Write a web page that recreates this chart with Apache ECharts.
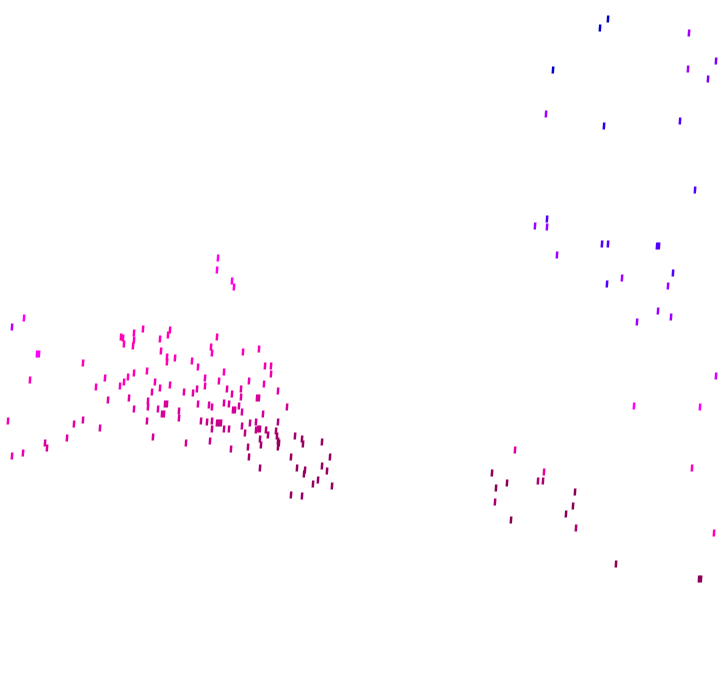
<!DOCTYPE html>
<html><head><meta charset="utf-8">
<script src="https://cdn.jsdelivr.net/npm/echarts@6/dist/echarts.min.js"></script>
<style>html,body{margin:0;padding:0;background:#fff}#c{width:720px;height:692px}</style>
</head><body><div id="c"></div>
<script>
// Point positions and a colour tone (0 = blue ... 6 = dark magenta)
const xs = [
 608,600,553,689,716,688,708,546,604,680,695,
 547,535,547,602,608,657,659,557,622,607,673,668,658,671,637,
 716,634,700,692,714,
 515,492,544,538,543,507,496,575,495,573,566,511,576,616,699,701,
 24,12,37,39,218,217,232,234,
 83,121,123,134,143,124,134,133,160,170,168,161,167,175,167,
 30,105,134,128,124,120,96,147,155,152,160,170,129,108,148,148,165,167,158,134,162,164,179,179,147,83,74,8,100,67,153,45,47,12,23,
 217,211,212,243,259,192,198,224,265,271,271,205,205,219,249,264,184,193,197,227,232,241,241,278,198,209,212,224,229,239,233,235,242,257,259,287,263,
 201,207,212,212,217,219,221,224,229,242,250,256,256,258,245,260,266,278,276,268,295,277,260,186,210,278,279,302,261,231,248,278,303,322,249,291,330,260,297,305,304,322,327,318,313,332,291,302
];
const ys = [
 19,28,70,33,61,69,79,114,126,121,190,
 219,226,227,244,244,246,246,255,278,284,273,286,311,317,322,
 376,406,407,468,533,
 450,473,472,481,481,483,488,492,502,506,514,520,528,564,579,579,
 318,327,354,354,258,270,281,287,
 363,337,338,333,329,344,340,346,339,330,335,351,357,358,362,
 380,378,373,377,382,386,387,371,382,392,388,385,398,400,401,407,404,404,409,409,414,414,411,418,421,420,424,421,428,438,437,443,448,456,453,
 337,347,353,352,349,361,367,372,366,366,374,378,386,381,381,384,392,393,389,389,394,389,397,391,404,405,407,403,404,406,410,410,412,398,398,407,414,
 421,422,421,429,423,423,423,429,429,426,423,422,430,429,433,429,430,422,431,435,436,436,439,443,441,441,443,439,445,449,447,447,444,442,457,457,457,468,468,470,474,466,471,480,484,486,495,496
];
const tones = [
 0,0,0,2,1.5,2,1.5,2,0.5,1,1,
 1,2,2,1,1,1,1,2,2,1,1,2,2,2,2,
 2.5,3,3,4,4,
 4.5,6,4.5,5.5,5.5,6,6,6,5.5,6,6,6,5.5,6,6,6,
 3,2.3,3,3,3.2,3.2,3.2,3.4,
 4,4,4,4,4,4,4,4,4,4,4,4,4,4,4,
 4,4,4,4,4,4,4,4,4.2,4.5,4.2,4.2,4.5,4.5,4.5,4.5,4.7,4.7,4.5,4.5,4.7,4.7,4.7,4.7,4.7,4.5,4.5,4.2,4.5,4.5,4.7,4.6,4.6,4.3,4.3,
 4,4,4,4,4,4,4,4,4.2,4.2,4.2,4.2,4.2,4.2,4.2,4.2,4.5,4.5,4.5,4.5,4.5,4.5,4.5,4.5,4.5,4.5,4.5,4.7,4.7,4.7,4.7,4.7,4.7,4.7,4.7,4.8,4.8,
 5,5,5,5,5,5,5,5,5,5,5,5,5,5,5.2,5.2,5.3,5.3,5.5,5.5,5.6,5.7,5.5,4.8,5,5.8,5.8,5.8,5.6,5,5.4,5.8,5.8,5.8,5.6,5.8,5.8,5.7,5.8,5.8,5.8,5.8,5.8,5.8,5.8,5.8,5.8,5.8
];
const toneColors = ['#0000d0','#5000ff','#a000ff','#ff00ff','#ff00b8','#c8008c','#8c0058'];

const data = xs.map((x, i) => [x, ys[i], tones[i]]);
const chart = echarts.init(document.getElementById('c'), null, {renderer: 'canvas'});
chart.setOption({
  animation: false,
  backgroundColor: '#fff',
  grid: {left: 0, right: 0, top: 0, bottom: 0},
  xAxis: {type: 'value', min: 0, max: 720, show: false},
  yAxis: {type: 'value', min: 0, max: 692, inverse: true, show: false},
  visualMap: {show: false, type: 'continuous', dimension: 2, min: 0, max: 6, inRange: {color: toneColors}},
  series: [{
    type: 'scatter',
    data: data,
    symbol: 'rect',
    symbolSize: [2.5, 7],
    symbolRotate: -4,
    itemStyle: {opacity: 1}
  }]
});
</script></body></html>
